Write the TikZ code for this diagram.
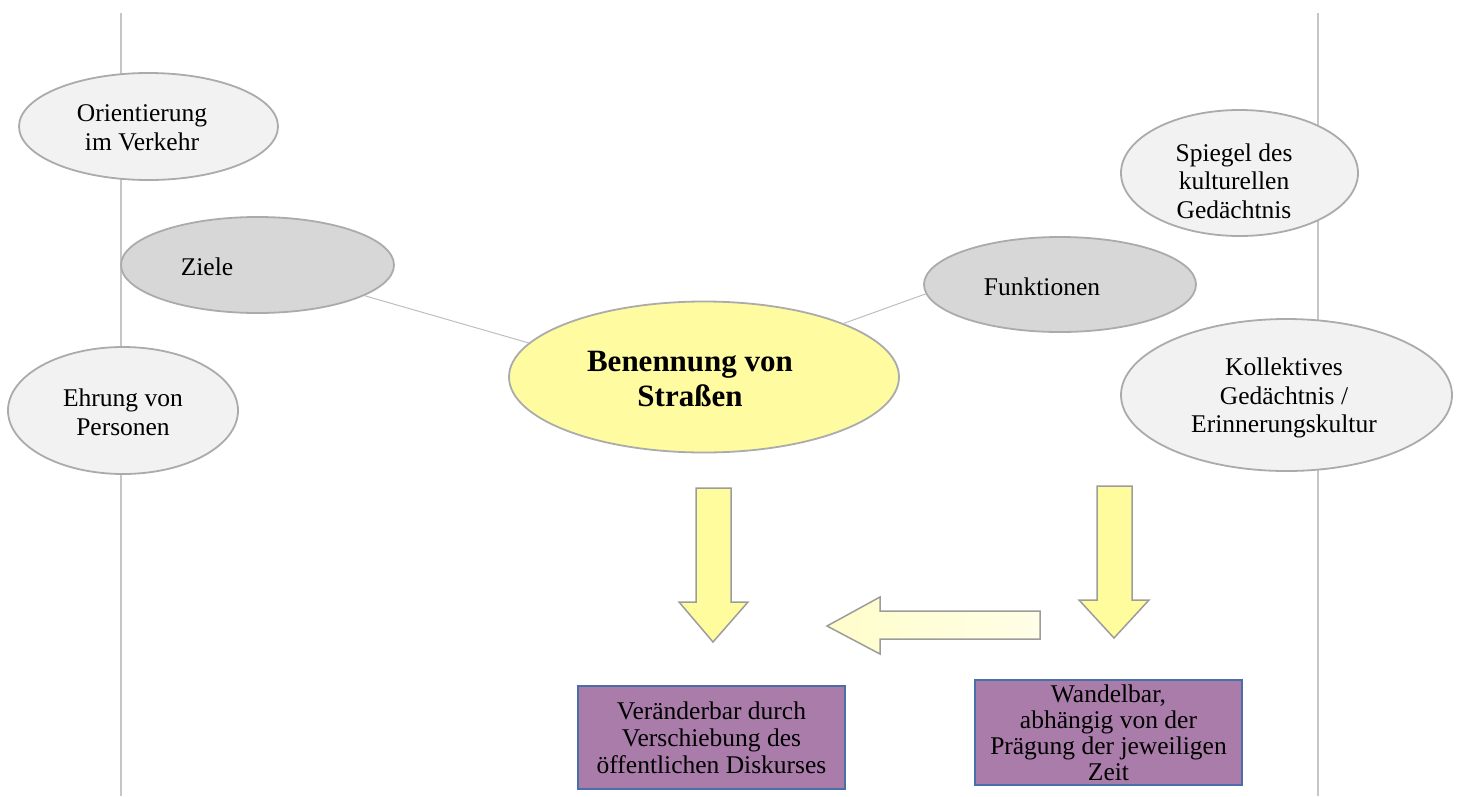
\documentclass[tikz,border=0pt]{standalone}
\usepackage{fontspec}
\setmainfont{Liberation Serif}
\usetikzlibrary{shapes.geometric,shadings,backgrounds}
\definecolor{ellL}{HTML}{F2F2F2}
\definecolor{ellD}{HTML}{D7D7D7}
\definecolor{ellB}{HTML}{ABABAB}
\definecolor{cen}{HTML}{FFFBA0}
\definecolor{arrF}{HTML}{FFFC9E}
\definecolor{arrB}{HTML}{9C9C9C}
\definecolor{boxF}{HTML}{A97CA9}
\definecolor{boxB}{HTML}{4A6FA8}
\definecolor{vline}{HTML}{C6C6C6}
\definecolor{conline}{HTML}{BEBEBE}
\begin{document}
\begin{tikzpicture}[x=1pt,y=-1pt,
  ell/.style={ellipse, draw=ellB, line width=1.8pt, inner sep=0pt},
  lightell/.style={ell, fill=ellL},
  darkell/.style={ell, fill=ellD},
  cenell/.style={ell, fill=cen},
  txt/.style={align=center, inner sep=0pt, font=\fontsize{25.5}{28.5}\selectfont},
  boldtxt/.style={align=center, inner sep=0pt, font=\fontsize{31}{35}\selectfont\bfseries},
  box/.style={rectangle, draw=boxB, fill=boxF, line width=2pt, align=center, inner sep=0pt},
  blk/.style={draw=arrB, line width=1.5pt, line join=miter},
  vl/.style={draw=vline, line width=1.5pt},
  conn/.style={draw=conline, line width=1pt}
]
\useasboundingbox (0,0) rectangle (1462,796);

% ellipses
\node[lightell, minimum width=259, minimum height=107] (ori) at (148.5,126.5) {};
\node[darkell, minimum width=273, minimum height=96] (ziele) at (257.5,265) {};
\node[lightell, minimum width=230, minimum height=127] (ehr) at (123,410.5) {};
\node[cenell, minimum width=390, minimum height=151] (ben) at (704,377) {};
\node[darkell, minimum width=272, minimum height=95] (fun) at (1060,284.5) {};
\node[lightell, minimum width=237, minimum height=126] (spi) at (1239.5,173) {};
\node[lightell, minimum width=331, minimum height=152] (kol) at (1286.5,395) {};

% texts
\node[txt] (tori) at (142,127.5) {Orientierung\\im Verkehr};
\node[txt] (tziele) at (207,267) {Ziele};
\node[txt] (tehr) at (123,412.5) {Ehrung von\\Personen};
\node[boldtxt] (tben) at (690,379) {Benennung von\\Straßen};
\node[txt] (tfun) at (1042,287) {Funktionen};
\node[txt] (tspi) at (1234,181) {Spiegel des\\kulturellen\\Gedächtnis};
\node[txt] (tkol) at (1284,398) {Kollektives\\Gedächtnis /\\Erinnerungskultur};

% boxes
\node[box, minimum width=267, minimum height=103, font=\fontsize{25.5}{27}\selectfont] (b1) at (711.5,737.5) {Veränderbar durch\\Verschiebung des\\öffentlichen Diskurses};
\node[box, minimum width=267, minimum height=105, font=\fontsize{25.5}{26}\selectfont] (b2) at (1108.5,732.5) {Wandelbar,\\abhängig von der\\Prägung der jeweiligen\\Zeit};

% block arrows
\draw[blk, fill=arrF] (696,488) -- (731,488) -- (731,602) -- (748,602) -- (713,642) -- (679,602) -- (696,602) -- cycle;
\draw[blk, fill=arrF] (1097,486) -- (1132,486) -- (1132,600) -- (1149,600) -- (1114,638) -- (1079,600) -- (1097,600) -- cycle;
\draw[blk, left color=arrF!55!white, right color=arrF!25!white] (1040,611) -- (880,611) -- (880,597) -- (827,626) -- (880,654) -- (880,639) -- (1040,639) -- cycle;

\begin{scope}[on background layer]
  \draw[vl] (121,13) coordinate (lt) -- (121,796) coordinate (lb);
  \draw[vl] (1318,13) coordinate (rt) -- (1318,796) coordinate (rb);
  \draw[conn] (ziele.-16.4) -- (ben.169.4);
  \draw[conn] (fun.-176.9) -- (ben.21.3);
\end{scope}
\end{tikzpicture}
\end{document}
